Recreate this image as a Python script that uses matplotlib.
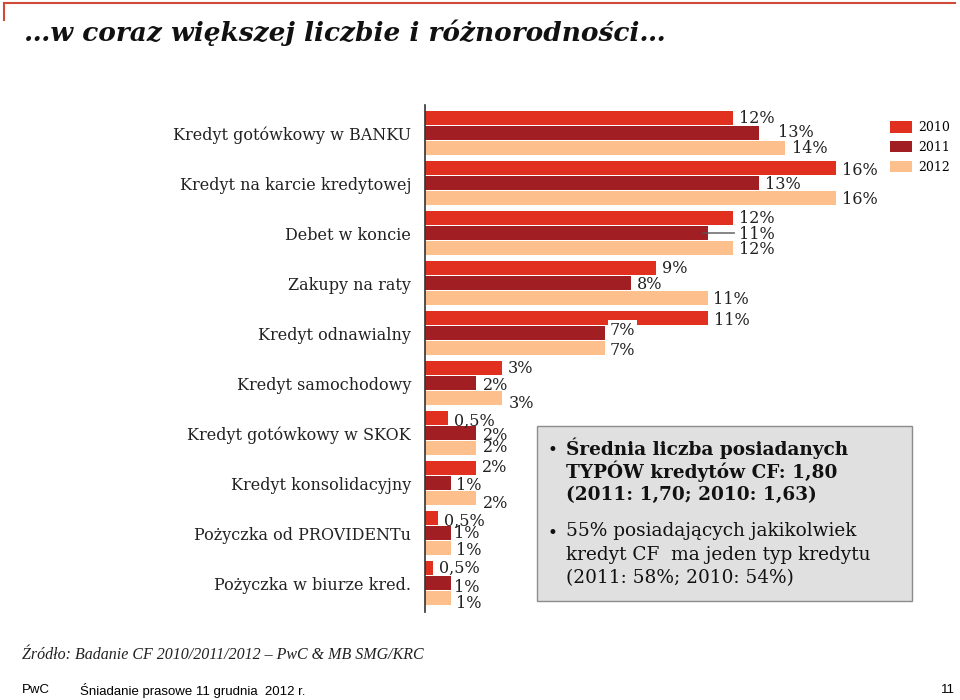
import matplotlib.pyplot as plt
from matplotlib.patches import Rectangle
from matplotlib.lines import Line2D

# Data
categories = ["Kredyt gotówkowy w BANKU", "Kredyt na karcie kredytowej", "Debet w koncie",
              "Zakupy na raty", "Kredyt odnawialny", "Kredyt samochodowy",
              "Kredyt gotówkowy w SKOK", "Kredyt konsolidacyjny",
              "Pożyczka od PROVIDENTu", "Pożyczka w biurze kred."]
years = ["2010", "2011", "2012"]
v2010 = [12, 16, 12, 9, 11, 3, 0.9, 2, 0.5, 0.3]
v2011 = [13, 13, 11, 8, 7, 2, 2, 1, 1, 1]
v2012 = [14, 16, 12, 11, 7, 3, 2, 2, 1, 1]
lab2010 = ["12%", "16%", "12%", "9%", "11%", "3%", "0,5%", "2%", "0,5%", "0,5%"]
lab2011 = ["13%", "13%", "11%", "8%", "7%", "2%", "2%", "1%", "1%", "1%"]
lab2012 = ["14%", "16%", "12%", "11%", "7%", "3%", "2%", "2%", "1%", "1%"]

colors = ["#E1301F", "#A11E22", "#FDC08C"]
W, H = 960, 700

# label nudges in pixels (dx, dy) where labels were hand-placed
dx = [[6] * 10, [19, 6, 31, 6, 5, 7, 7, 5, 3, 3], [7, 6, 6, 5, 5, 7, 7, 7, 5, 5]]
dy = [[0, -2, 0, 0, -2, 0, -3, 1, -3, 0],
      [1, -1, -1, -1, 3, -2, -2, -2, -1, -4],
      [0, -1, -1, -1, -2, -5, 1, -5, -2, -5]]

fig = plt.figure(figsize=(9.6, 7.0), dpi=100)

# axes placed in pixel coordinates
x0, x1 = 425, 939
y_top, y_bot = 105, 612
ax = fig.add_axes([x0 / W, 1 - y_bot / H, (x1 - x0) / W, (y_bot - y_top) / H])
ax.set_xlim(0, 20)
ax.set_ylim((y_bot - 133) / 50, -(133 - y_top) / 50)

series = [v2010, v2011, v2012]
labels = [lab2010, lab2011, lab2012]
offs = [-0.3, 0, 0.3]
serif = "DejaVu Serif"
handles = []
for k in range(3):
    pos = [i + offs[k] for i in range(len(categories))]
    b = ax.barh(pos, series[k], height=0.27, color=colors[k], label=years[k])
    handles.append(b)
    for i, (v, t) in enumerate(zip(series[k], labels[k])):
        bbox = None
        if k == 1 and i == 4:
            bbox = dict(boxstyle="square,pad=0.1", fc="white", ec="none")
        ax.annotate(t, (v, pos[i]), xytext=(dx[k][i] * 0.72, dy[k][i] * 0.72),
                    textcoords="offset points", ha="left", va="center",
                    fontsize=11.5, family=serif, color="#222222", bbox=bbox)

# leader line for Debet 2011
ax.annotate("", (v2011[2] - 0.3, 2), xytext=(12.15, 2),
            arrowprops=dict(arrowstyle="-", color="#555555", lw=1))

for s in ["top", "right", "bottom"]:
    ax.spines[s].set_visible(False)
ax.spines["left"].set_color("#333333")
ax.spines["left"].set_linewidth(1.2)
ax.set_xticks([])
ax.set_yticks(range(len(categories)))
ax.set_yticklabels(categories, family=serif, fontsize=11.5, color="#222222")
ax.tick_params(axis="y", length=0, pad=10)

# legend
ax.legend(handles=handles, loc="upper left", bbox_to_anchor=(879 / W, 1 - 110 / H),
          bbox_transform=fig.transFigure, frameon=False,
          prop={"family": serif, "size": 9}, handlelength=1.7, handleheight=1.0,
          labelspacing=0.55, handletextpad=0.5)

# info box
fig.patches.append(Rectangle((537 / W, 1 - 601 / H), 375 / W, 175 / H,
                             transform=fig.transFigure, fc="#E0E0E0", ec="#8C8C8C", lw=1))
bold_lines = ["Średnia liczba posiadanych", "TYPÓW kredytów CF: 1,80", "(2011: 1,70; 2010: 1,63)"]
reg_lines = ["55% posiadających jakikolwiek", "kredyt CF  ma jeden typ kredytu", "(2011: 58%; 2010: 54%)"]
for j, t in enumerate(bold_lines):
    fig.text(566 / W, 1 - (448 + 23.5 * j) / H, t, fontsize=13.3, family=serif,
             weight="bold", va="center", color="#111111")
for j, t in enumerate(reg_lines):
    fig.text(566 / W, 1 - (531 + 23.5 * j) / H, t, fontsize=13.3, family=serif,
             va="center", color="#111111")
fig.text(547 / W, 1 - 450 / H, "•", fontsize=12, va="center", color="#111111")
fig.text(547 / W, 1 - 533 / H, "•", fontsize=12, va="center", color="#111111")

# title and frame line
fig.lines.append(Line2D([4 / W, 955 / W], [1 - 2.5 / H, 1 - 2.5 / H], transform=fig.transFigure,
                        color="#D04A3A", lw=1.5))
fig.lines.append(Line2D([4 / W, 4 / W], [1 - 2.5 / H, 1 - 20 / H], transform=fig.transFigure,
                        color="#D04A3A", lw=1.5))
fig.text(24 / W, 1 - 33 / H, "…w coraz większej liczbie i różnorodności…", fontsize=19,
         family=serif, weight="bold", style="italic", va="center", color="#111111")

# footer
fig.text(22 / W, 1 - 655 / H, "Źródło: Badanie CF 2010/2011/2012 – PwC & MB SMG/KRC",
         fontsize=11.5, family="Liberation Serif", style="italic", va="center", color="#222222")
fig.text(22 / W, 1 - 690 / H, "PwC", fontsize=9.5, family="Liberation Sans", va="center")
fig.text(80 / W, 1 - 690 / H, "Śniadanie prasowe 11 grudnia  2012 r.", fontsize=9.5,
         family="Liberation Sans", va="center")
fig.text(955 / W, 1 - 690 / H, "11", fontsize=9.5, family="Liberation Sans", va="center", ha="right")

fig.savefig("out.png", dpi=100)
